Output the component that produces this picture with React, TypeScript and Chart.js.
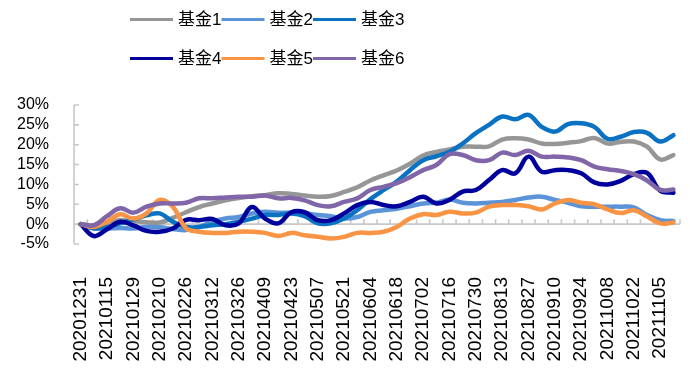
import React, { useEffect, useRef } from "react";
import { Chart, registerables } from "chart.js";

Chart.register(...registerables);

// Weekly observation dates (every other one is labelled on the axis)
const dates = [
  "20201231", "20210108", "20210115", "20210122", "20210129", "20210205",
  "20210210", "20210219", "20210226", "20210305", "20210312", "20210319",
  "20210326", "20210402", "20210409", "20210416", "20210423", "20210430",
  "20210507", "20210514", "20210521", "20210528", "20210604", "20210611",
  "20210618", "20210625", "20210702", "20210709", "20210716", "20210723",
  "20210730", "20210806", "20210813", "20210820", "20210827", "20210903",
  "20210910", "20210917", "20210924", "20210930", "20211008", "20211015",
  "20211022", "20211029", "20211105", "20211112",
];

// Cumulative return, %
const fund1 = [
  0, -0.3, 0.5, 1.0, 0.8, 0.5, 0.4, 1.6, 3.0, 4.3, 5.2, 6.0,
  6.6, 7.0, 7.3, 7.8, 7.6, 7.2, 6.9, 7.1, 8.1, 9.3, 11.0, 12.3,
  13.5, 15.2, 17.3, 18.2, 18.8, 19.5, 19.5, 19.6, 21.3, 21.6, 21.3, 20.3,
  20.2, 20.5, 20.9, 21.7, 20.3, 20.7, 20.8, 19.5, 16.3, 17.4,
];
const fund2 = [
  0, -1.0, -1.1, -1.0, -1.1, -0.7, -0.8, -1.2, -1.5, -0.7, 0.6, 1.4,
  1.8, 2.7, 3.1, 2.9, 2.9, 2.7, 2.3, 2.0, 1.4, 1.8, 3.1, 3.5,
  3.9, 4.5, 5.2, 5.4, 6.2, 5.4, 5.2, 5.4, 5.6, 6.1, 6.7, 6.9,
  6.1, 5.4, 4.5, 4.4, 4.4, 4.4, 4.2, 2.3, 1.0, 0.8,
];
const fund3 = [
  0, -1.1, -0.7, 0.2, 1.2, 2.2, 2.7, 0.6, -0.7, -0.7, -0.3, 0.0,
  0.6, 1.4, 2.3, 2.3, 2.7, 2.0, 0.2, 0.2, 1.4, 3.5, 6.3, 8.6,
  10.7, 13.6, 16.1, 17.1, 18.2, 20.3, 22.9, 25.0, 27.1, 26.4, 27.5, 24.5,
  23.3, 25.2, 25.4, 24.5, 21.5, 22.0, 23.2, 23.0, 20.8, 22.4,
];
const fund4 = [
  0, -3.0, -1.3, 0.6, -0.3, -1.7, -1.9, -1.1, 1.1, 1.0, 1.3, -0.3,
  0.2, 4.3, 1.4, 0.2, 3.0, 3.0, 1.0, 1.0, 2.7, 4.8, 5.6, 4.8,
  4.5, 5.6, 6.9, 5.2, 6.1, 8.2, 8.6, 11.1, 13.6, 12.8, 17.0, 13.2,
  13.6, 13.6, 12.8, 10.5, 10.0, 10.9, 12.6, 12.9, 8.4, 7.9,
];
const fund5 = [
  0, -0.7, 0.6, 2.5, 1.4, 2.7, 6.1, 4.4, -1.0, -1.9, -2.2, -2.2,
  -1.9, -1.9, -2.2, -3.0, -2.2, -2.8, -3.2, -3.6, -3.2, -2.2, -2.2, -1.9,
  -0.7, 1.4, 2.5, 2.3, 3.1, 2.7, 2.9, 4.4, 4.8, 4.8, 4.5, 3.7,
  5.2, 6.1, 5.4, 5.0, 3.7, 2.8, 3.5, 1.9, 0.2, 0.4,
];
const fund6 = [
  0, -0.3, 2.0, 4.0, 2.9, 4.4, 5.2, 5.2, 5.4, 6.5, 6.5, 6.7,
  6.9, 6.9, 7.2, 6.5, 6.6, 6.0, 4.8, 4.5, 5.6, 6.5, 8.6, 9.4,
  10.3, 11.8, 13.6, 14.9, 17.6, 17.4, 16.1, 16.1, 18.0, 17.4, 18.5, 17.0,
  17.0, 16.8, 16.1, 14.5, 13.8, 13.4, 12.6, 11.0, 8.6, 8.7,
];

const seriesNames = ["基金1", "基金2", "基金3", "基金4", "基金5", "基金6"];
const seriesValues = [fund1, fund2, fund3, fund4, fund5, fund6];
const seriesColors = ["#969696", "#5B93D9", "#0A72C2", "#00009C", "#F99445", "#8065A8"];

const Y_MIN = -5;
const Y_MAX = 30;
const Y_STEP = 5;

const AXIS_COLOR = "#C8C8C8";
const LABEL_FONT = '"Liberation Sans", Arial, sans-serif';
const LEGEND_FONT = '"Liberation Sans", "Noto Sans CJK SC", sans-serif';
const X_AXIS_HEIGHT = 128;

const excelAxesPlugin = {
  id: "excelAxes",
  beforeDatasetsDraw(chart: any) {
    const { ctx, chartArea: a, scales } = chart;
    const x = scales.x;
    const y = scales.y;
    ctx.save();
    ctx.strokeStyle = AXIS_COLOR;
    ctx.lineWidth = 1.6;
    ctx.beginPath();
    // vertical axis with inner ticks
    const yTop = y.getPixelForValue(Y_MAX);
    const yBot = y.getPixelForValue(Y_MIN);
    ctx.moveTo(a.left, yTop);
    ctx.lineTo(a.left, yBot);
    y.ticks.forEach((t: any) => {
      const py = y.getPixelForValue(t.value);
      ctx.moveTo(a.left, py);
      ctx.lineTo(a.left + 5, py);
    });
    // horizontal axis at zero with inner ticks between categories
    const y0 = y.getPixelForValue(0);
    ctx.moveTo(a.left, y0);
    ctx.lineTo(a.right, y0);
    const n = chart.data.labels.length;
    const half = (x.getPixelForValue(1) - x.getPixelForValue(0)) / 2;
    for (let i = 0; i < n; i++) {
      const px = x.getPixelForValue(i) + half;
      ctx.moveTo(px, y0);
      ctx.lineTo(px, y0 - 5);
    }
    ctx.stroke();
    ctx.restore();
  },
};

const LEGEND_LEFT = 130;
const LEGEND_COL = 91.5;
const LEGEND_TOP = 19.5;
const LEGEND_ROW = 39;
const LEGEND_LINE = 43;

const twoRowLegendPlugin = {
  id: "twoRowLegend",
  afterDraw(chart: any) {
    const { ctx } = chart;
    ctx.save();
    chart.data.datasets.forEach((ds: any, i: number) => {
      const col = i % 3;
      const row = Math.floor(i / 3);
      const lx = LEGEND_LEFT + col * LEGEND_COL;
      const ly = LEGEND_TOP + row * LEGEND_ROW;
      ctx.strokeStyle = ds.borderColor;
      ctx.lineWidth = 3;
      ctx.lineCap = "butt";
      ctx.beginPath();
      ctx.moveTo(lx, ly);
      ctx.lineTo(lx + LEGEND_LINE, ly);
      ctx.stroke();
      ctx.fillStyle = "#000";
      ctx.font = `17px ${LEGEND_FONT}`;
      ctx.textAlign = "left";
      ctx.textBaseline = "middle";
      ctx.fillText(ds.label, lx + LEGEND_LINE + 5, ly + 1);
    });
    ctx.restore();
  },
};

export default function App() {
  const canvasRef = useRef<HTMLCanvasElement | null>(null);

  useEffect(() => {
    document.body.style.margin = "0";
    const canvas = canvasRef.current;
    if (!canvas) return;
    const chart = new Chart(canvas, {
      type: "line",
      data: {
        labels: dates,
        datasets: seriesNames.map((name, i) => ({
          label: name,
          data: seriesValues[i],
          borderColor: seriesColors[i],
          backgroundColor: seriesColors[i],
          borderWidth: 4.5,
          pointRadius: 0,
          pointHoverRadius: 0,
          tension: 0.4,
          fill: false,
          borderCapStyle: "round",
          borderJoinStyle: "round",
          order: seriesNames.length - i,
        })),
      },
      options: {
        responsive: false,
        maintainAspectRatio: false,
        animation: false,
        layout: { padding: { top: 105, left: 17, right: 10, bottom: 0 } },
        plugins: {
          legend: { display: false },
          tooltip: { enabled: false },
        },
        scales: {
          x: {
            type: "category",
            offset: true,
            grid: { display: false, drawTicks: true, tickLength: 33 },
            border: { display: false },
            afterFit: (s: any) => {
              s.height = X_AXIS_HEIGHT;
              s.paddingLeft = 0;
              s.paddingRight = 0;
            },
            ticks: {
              autoSkip: false,
              minRotation: 90,
              maxRotation: 90,
              padding: 0,
              color: "#000",
              font: { family: LABEL_FONT, size: 19 },
              callback: (_v: any, index: number) => (index % 2 === 0 ? dates[index] : ""),
            },
          },
          y: {
            min: Y_MIN,
            max: Y_MAX,
            grid: { display: false, drawTicks: true, tickLength: 25 },
            border: { display: false },
            ticks: {
              stepSize: Y_STEP,
              autoSkip: false,
              padding: 0,
              color: "#000",
              font: { family: LABEL_FONT, size: 16 },
              callback: (v: any) => `${v}%`,
            },
          },
        },
      },
      plugins: [excelAxesPlugin, twoRowLegendPlugin],
    });
    return () => chart.destroy();
  }, []);

  return (
    <div style={{ width: 690, height: 372, overflow: "hidden" }}>
      <canvas ref={canvasRef} width={690} height={372} style={{ display: "block" }} />
    </div>
  );
}
